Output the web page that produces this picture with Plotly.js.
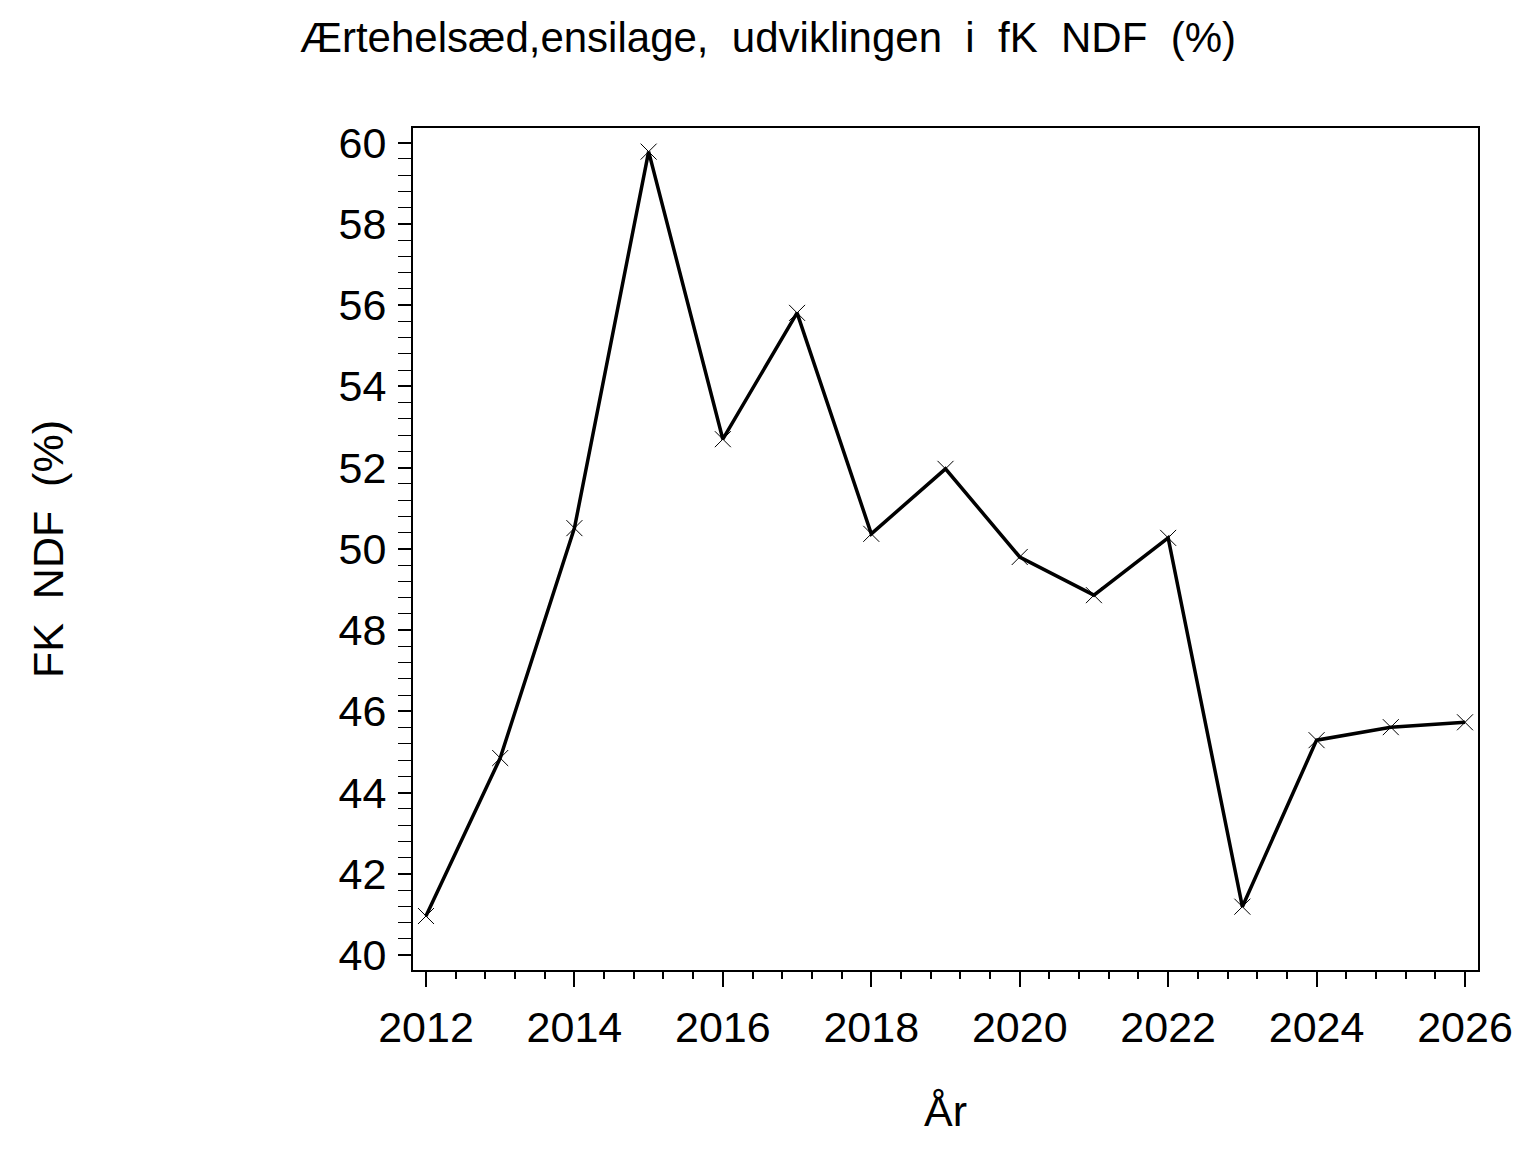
<!DOCTYPE html>
<html>
<head>
<meta charset="utf-8">
<script src="https://cdn.plot.ly/plotly-3.0.1.min.js"></script>
<style>html,body{margin:0;padding:0;background:#fff;}#chart{width:1536px;height:1152px;}</style>
</head>
<body>
<div id="chart"></div>
<script>
const years = [2012, 2013, 2014, 2015, 2016, 2017, 2018, 2019, 2020, 2021, 2022, 2023, 2024, 2025, 2026];
const ndfValues = [40.96, 44.85, 50.51, 59.78, 52.70, 55.81, 50.37, 51.97, 49.80, 48.86, 50.27, 41.19, 45.29, 45.61, 45.73];
const xTickValues = [2012, 2014, 2016, 2018, 2020, 2022, 2024, 2026];
const yTickValues = [40, 42, 44, 46, 48, 50, 52, 54, 56, 58, 60];
const titleText = "Ærtehelsæd,ensilage,\u00A0 udviklingen\u00A0 i\u00A0 fK\u00A0 NDF\u00A0 (%)";
const xTitle = "År";
const yTitle = "FK\u00A0 NDF\u00A0 (%)";

const FONT = "Liberation Sans, Arial, sans-serif";

const trace = {
  x: years,
  y: ndfValues,
  type: "scatter",
  mode: "lines+markers",
  line: {color: "#000", width: 3.5},
  marker: {symbol: "x-thin-open", size: 16, color: "#000", line: {color: "#000", width: 1}},
  cliponaxis: false,
  showlegend: false
};

const layout = {
  width: 1536,
  height: 1152,
  paper_bgcolor: "#fff",
  plot_bgcolor: "#fff",
  margin: {l: 413, r: 58, t: 128, b: 182},
  font: {family: FONT, color: "#000"},
  title: {
    text: titleText,
    font: {family: FONT, size: 42, color: "#000"},
    x: 0.5, xanchor: "center",
    y: 1 - 37/1152, yref: "container", yanchor: "middle"
  },
  xaxis: {
    range: [2011.825, 2026.175],
    tickmode: "array",
    tickvals: xTickValues,
    ticktext: xTickValues.map(String),
    ticks: "outside",
    ticklen: 15,
    tickwidth: 2,
    tickcolor: "#000",
    ticklabelstandoff: 3,
    minor: {dtick: 0.4, tick0: 2012, ticks: "outside", ticklen: 7, tickwidth: 2, tickcolor: "#000"},
    showline: true, linecolor: "#000", linewidth: 2, mirror: true,
    showgrid: false, zeroline: false,
    tickfont: {family: FONT, size: 43, color: "#000"},
    title: {text: xTitle, font: {family: FONT, size: 43, color: "#000"}, standoff: 46}
  },
  yaxis: {
    range: [39.631, 60.362],
    tickmode: "array",
    tickvals: yTickValues,
    ticktext: yTickValues.map(String),
    ticks: "outside",
    ticklen: 13,
    tickwidth: 2,
    tickcolor: "#000",
    ticklabelstandoff: 3,
    minor: {dtick: 0.4, tick0: 40, ticks: "outside", ticklen: 13, tickwidth: 1, tickcolor: "#000"},
    showline: true, linecolor: "#000", linewidth: 2, mirror: true,
    showgrid: false, zeroline: false,
    tickfont: {family: FONT, size: 43, color: "#000"},
    title: {text: yTitle, font: {family: FONT, size: 43, color: "#000"}, standoff: 262}
  }
};

Plotly.newPlot("chart", [trace], layout, {displayModeBar: false, staticPlot: true});
</script>
</body>
</html>
